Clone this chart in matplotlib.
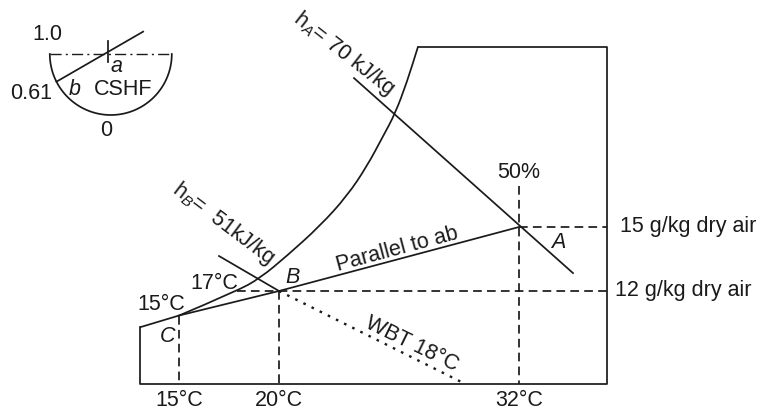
import numpy as np
import matplotlib

matplotlib.use("Agg")
import matplotlib.pyplot as plt
from matplotlib.path import Path
from matplotlib.patches import PathPatch

plt.rcParams["font.family"] = ["Liberation Sans", "DejaVu Sans"]
plt.rcParams["mathtext.fontset"] = "custom"
plt.rcParams["mathtext.rm"] = "Liberation Sans"
plt.rcParams["mathtext.it"] = "Liberation Sans:italic"

# saturation curve of the sketch (dry bulb degC, humidity ratio g/kg)
sat_T = [13.05, 15.0, 17.9, 19.05, 20.4, 22.05, 23.4, 24.4, 25.2, 25.8, 26.4, 26.95]
sat_W = [10.3, 10.85, 12.0, 12.6, 13.65, 15.05, 16.45, 17.85, 19.25, 20.3, 21.8, 23.45]

# chart frame limits
T_right = 36.4
W_top = 23.45
W_bottom = 7.65

# state points
pt_T = {"A": 32.0, "B": 20.0, "C": 15.0}
pt_W = {"A": 15.0, "B": 12.0, "C": 10.85}

# enthalpy lines (start, end)
hA_T = [23.75, 34.7]
hA_W = [21.98, 12.84]
hB_T = [17.0, 20.0]
hB_W = [13.64, 12.0]

# wet bulb line from B to the bottom
wbt_T = [20.0, 29.3]
dew_T = 17.9            # start of the 12 g/kg dashed line
rh50_W = 16.9           # top of the 32 degC dashed line

temp_ticks = [15, 20, 32]
temp_labels = ["15°C", "20°C", "32°C"]
w_levels = [15, 12]
w_labels = ["15 g/kg dry air", "12 g/kg dry air"]

# CSHF protractor
cshf_angle = 207.0      # position of 0.61 on the arc, degrees
cshf_slope = 30.0

ink = "#1a1a1a"
lw = 1.25
FS = 15.5


def smooth_path(xs, ys):
    """Straight first segment, then quadratic Bezier through the read points."""
    pts = list(zip(xs, ys))
    verts = [pts[0], pts[1]]
    codes = [Path.MOVETO, Path.LINETO]
    for i in range(2, len(pts) - 1):
        mid = ((pts[i][0] + pts[i + 1][0]) / 2, (pts[i][1] + pts[i + 1][1]) / 2)
        verts += [pts[i], mid]
        codes += [Path.CURVE3, Path.CURVE3]
    verts.append(pts[-1])
    codes.append(Path.LINETO)
    return Path(verts, codes)


fig = plt.figure(figsize=(7.61, 4.14), dpi=100)
ax = fig.add_axes([0, 0, 1, 1])
# 20 px per degC, 64/3 px per g/kg; 15 degC at x=179, 12 g/kg at y=292
ax.set_xlim(6.05, 44.1)
ax.set_ylim(12 - 122 / (64 / 3), 12 + 292 / (64 / 3))
ax.axis("off")

# frame + saturation curve
ax.add_patch(PathPatch(smooth_path(sat_T, sat_W), fill=False, edgecolor=ink, lw=lw))
frame_T = [sat_T[-1], T_right, T_right, sat_T[0], sat_T[0]]
frame_W = [W_top, W_top, W_bottom, W_bottom, sat_W[0]]
ax.plot(frame_T, frame_W, color=ink, lw=lw)

# condition line C-B-A
ax.plot([pt_T["C"], pt_T["B"], pt_T["A"]], [pt_W["C"], pt_W["B"], pt_W["A"]], color=ink, lw=lw)

# enthalpy lines
ax.plot(hA_T, hA_W, color=ink, lw=lw)
ax.plot(hB_T, hB_W, color=ink, lw=lw)

dash = (0, (5, 3))
# verticals
ax.plot([pt_T["C"], pt_T["C"]], [pt_W["C"], W_bottom], color=ink, lw=lw, ls=dash)
ax.plot([pt_T["B"], pt_T["B"]], [pt_W["B"], W_bottom], color=ink, lw=lw, ls=dash)
ax.plot([pt_T["A"], pt_T["A"]], [rh50_W, W_bottom], color=ink, lw=lw, ls=dash)
# horizontals
ax.plot([pt_T["A"], T_right], [pt_W["A"], pt_W["A"]], color=ink, lw=lw, ls=dash)
ax.plot([dew_T, T_right], [pt_W["B"], pt_W["B"]], color=ink, lw=lw, ls=dash)

# wet bulb line
ax.plot(wbt_T, [pt_W["B"], W_bottom], color=ink, lw=1.7, ls=(0, (1.1, 2.75)))

# labels
for t, lab in zip(temp_ticks, temp_labels):
    ax.text(t, 6.9, lab, fontsize=FS, ha="center", va="center", color=ink)
for w, lab, x in zip(w_levels, w_labels, [37.05, 36.8]):
    ax.text(x, w + 0.05, lab, fontsize=FS, ha="left", va="center", color=ink)

ax.text(32.0, 17.6, "50%", fontsize=FS, ha="center", va="center", color=ink)
ax.text(14.1, 11.4, "15°C", fontsize=FS, ha="center", va="center", color=ink)
ax.text(16.75, 12.42, "17°C", fontsize=FS, ha="center", va="center", color=ink)
ax.text(14.45, 9.9, "C", fontsize=FS, style="italic", ha="center", va="center", color=ink)
ax.text(20.7, 12.7, "B", fontsize=FS, style="italic", ha="center", va="center", color=ink)
ax.text(33.95, 14.3, "A", fontsize=FS, style="italic", ha="center", va="center", color=ink)
ax.text(25.9, 14.0, "Parallel to ab", fontsize=FS, rotation=15, rotation_mode="anchor",
        ha="center", va="center", color=ink)
ax.text(26.65, 9.56, "WBT 18°C", fontsize=FS, rotation=-26, rotation_mode="anchor",
        ha="center", va="center", color=ink)
ax.text(17.2, 15.19, r"h$_B$=  51kJ/kg", fontsize=FS, rotation=-37, rotation_mode="anchor",
        ha="center", va="center", color=ink)
ax.text(23.25, 23.16, r"h$_A$= 70 kJ/kg", fontsize=FS, rotation=-38, rotation_mode="anchor",
        ha="center", va="center", color=ink)

# CSHF protractor inset (units of arc radius, 61 px)
ins = fig.add_axes([0, (414 - 150) / 414, 230 / 761, 150 / 414])
ins.set_xlim(-110.8 / 61, 119.2 / 61)
ins.set_ylim(-95 / 61, 55 / 61)
ins.axis("off")
th = np.radians(np.linspace(180, 360, 181))
ins.plot(np.cos(th), np.sin(th), color=ink, lw=lw)
ins.plot([-1, 1], [0, 0], color=ink, lw=1.0, ls=(0, (8, 3, 1.5, 3)))
a0 = np.radians(cshf_angle)
x0, y0 = np.cos(a0), np.sin(a0)
x1 = 0.53
ins.plot([x0, x1], [y0, y0 + (x1 - x0) * np.tan(np.radians(cshf_slope))], color=ink, lw=lw)
ins.plot([-0.046, -0.046], [0.21, -0.13], color=ink, lw=lw)
ins.text(-1.04, 0.33, "1.0", fontsize=FS, ha="center", va="center", color=ink)
ins.text(-1.30, -0.63, "0.61", fontsize=FS, ha="center", va="center", color=ink)
ins.text(-0.59, -0.56, "b", fontsize=FS, style="italic", ha="center", va="center", color=ink)
ins.text(0.2, -0.56, "CSHF", fontsize=FS, ha="center", va="center", color=ink)
ins.text(0.10, -0.19, "a", fontsize=FS, style="italic", ha="center", va="center", color=ink)
ins.text(-0.07, -1.23, "0", fontsize=FS, ha="center", va="center", color=ink)

fig.savefig("out.png", dpi=100)
